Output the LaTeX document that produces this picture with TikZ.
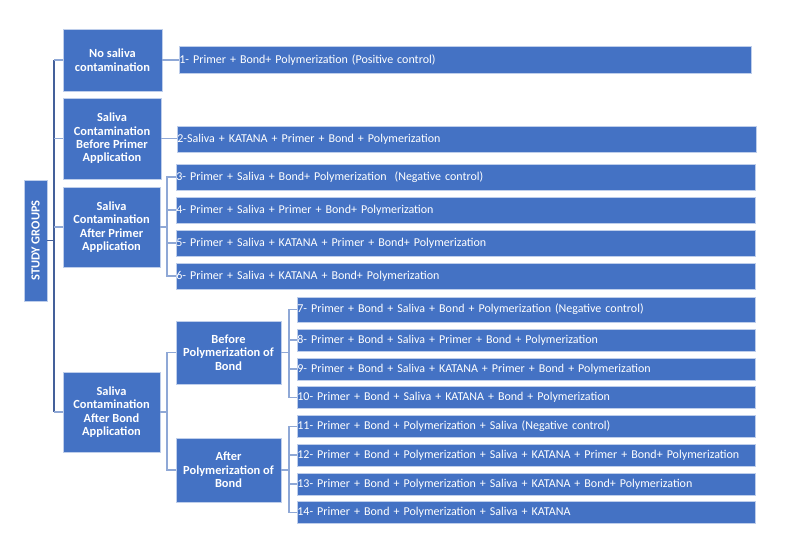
\documentclass[tikz,border=0pt]{standalone}
\usepackage{fontspec}
\setmainfont{Carlito}
\definecolor{grpblue}{RGB}{68,114,196}
\definecolor{grpedge}{RGB}{190,206,235}
\definecolor{trunkline}{RGB}{68,96,154}
\definecolor{branchline}{RGB}{143,168,214}
\usetikzlibrary{positioning}

\begin{document}
\begin{tikzpicture}[x=1pt, y=-1pt,
    grp/.style n args={2}{draw=grpedge, fill=grpblue, text=white, line width=0.8pt, inner sep=0pt,
        font=\bfseries\fontsize{12.4}{13.4}\selectfont, align=center, minimum width=#1pt, minimum height=#2pt},
    leaf/.style n args={2}{draw=grpedge, fill=grpblue, text=white, line width=0.8pt, anchor=west,
        inner xsep=0pt, inner ysep=0pt, font=\fontsize{12}{13}\selectfont, align=left,
        text width=#1pt, minimum height=#2pt},
    trunk/.style={trunkline, line width=1.1pt},
    branch/.style={branchline, line width=1.1pt}]
    \useasboundingbox (0,0) rectangle (794,554);

    \node[grp={121}{23}, rotate=90] (study) at (35.5,240.5) {STUDY GROUPS};
    \node[grp={99}{62}] (nosal) at (112.5,60) {No saliva\\contamination};
    \node[grp={98}{81}] (beforeprim) at (112,138.5) {Saliva\\Contamination\\Before Primer\\Application};
    \node[grp={97}{80}] (afterprim) at (111.5,227) {Saliva\\Contamination\\After Primer\\Application};
    \node[grp={97}{80}] (afterbond) at (111.5,412) {Saliva\\Contamination\\After Bond\\Application};
    \node[grp={105}{63}] (beforepoly) at (228.5,352.5) {Before\\Polymerization of\\Bond};
    \node[grp={105}{64}] (afterpoly) at (228.5,470) {After\\Polymerization of\\Bond};

    \node[leaf={572}{27}] (g1) at (179,60) {1- Primer + Bond+ Polymerization (Positive control)};
    \node[leaf={579}{26}] (g2) at (177,139) {2-Saliva + KATANA + Primer + Bond + Polymerization};
    \foreach \n/\y/\t in {3/177/{3- Primer + Saliva + Bond+ Polymerization~ (Negative control)},
                          4/210/{4- Primer + Saliva + Primer + Bond+ Polymerization},
                          5/243/{5- Primer + Saliva + KATANA + Primer + Bond+ Polymerization},
                          6/276/{6- Primer + Saliva + KATANA + Bond+ Polymerization}}
        \node[leaf={579}{26}] (g\n) at (176,\y) {\t};
    \node[leaf={458}{25}] (g7) at (297,309.5) {7- Primer + Bond + Saliva + Bond + Polymerization (Negative control)};
    \foreach \n/\y/\t in {8/340/{8- Primer + Bond + Saliva + Primer + Bond + Polymerization},
                          9/369/{9- Primer + Bond + Saliva + KATANA + Primer + Bond + Polymerization},
                          10/397.5/{10- Primer + Bond + Saliva + KATANA + Bond + Polymerization},
                          11/426.5/{11- Primer + Bond + Polymerization + Saliva (Negative control)},
                          12/455/{12- Primer + Bond + Polymerization + Saliva + KATANA + Primer + Bond+ Polymerization},
                          13/484/{13- Primer + Bond + Polymerization + Saliva + KATANA + Bond+ Polymerization},
                          14/512.5/{14- Primer + Bond + Polymerization + Saliva + KATANA}}
        \node[leaf={458}{22}] (g\n) at (297,\y) {\t};

    \coordinate (tr) at (54,240);
    \coordinate (bp) at (167,227);
    \coordinate (bb) at (167,412);
    \coordinate (pb) at (289,352.5);
    \coordinate (pa) at (289,470);

    \draw[trunk] (nosal.west -| tr) -- (afterbond.west -| tr);
    \draw[trunk] (study.south) -- (study.south -| tr);
    \foreach \b in {nosal,beforeprim,afterprim,afterbond}
        \draw[branch] (\b.west) -- (\b.west -| tr);

    \draw[branch] (nosal.east) -- (nosal.east -| g1.west);
    \draw[branch] (beforeprim.east) -- (beforeprim.east -| g2.west);

    \draw[branch] (afterprim.east) -- (bp);
    \draw[branch] (g3.west) -| (bp) |- (g6.west);
    \foreach \n in {4,5}
        \draw[branch] (g\n.west) -- (g\n.west -| bp);

    \draw[branch] (afterbond.east) -- (bb);
    \draw[branch] (beforepoly.west) -| (bb) |- (afterpoly.west);

    \draw[branch] (beforepoly.east) -- (pb);
    \draw[branch] (g7.west) -| (pb) |- (g10.west);
    \foreach \n in {8,9}
        \draw[branch] (g\n.west) -- (g\n.west -| pb);

    \draw[branch] (afterpoly.east) -- (pa);
    \draw[branch] (g11.west) -| (pa) |- (g14.west);
    \foreach \n in {12,13}
        \draw[branch] (g\n.west) -- (g\n.west -| pa);
\end{tikzpicture}
\end{document}
